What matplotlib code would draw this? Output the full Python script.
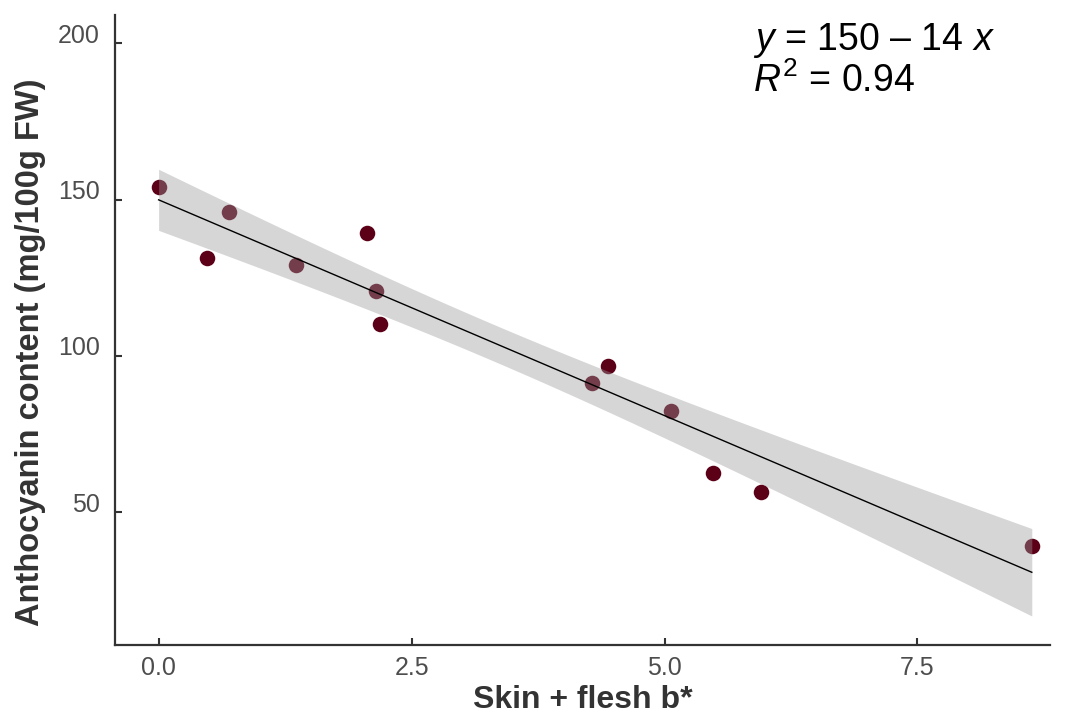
import numpy as np
import matplotlib
matplotlib.use("Agg")
import matplotlib.pyplot as plt
from matplotlib.transforms import ScaledTranslation

# colour b* values (skin + flesh) and anthocyanin content
b_star = [0.0, 0.48, 0.70, 1.36, 2.06, 2.15, 2.19, 4.28, 4.44, 5.06, 5.48, 5.95, 8.63]
anthocyanin = [154.0, 131.2, 146.0, 129.0, 139.2, 120.7, 110.1, 91.3, 96.7, 82.3, 62.5, 56.4, 39.1]

x_ticks = [0.0, 2.5, 5.0, 7.5]
y_ticks = [50, 100, 150, 200]

T_975 = 2.201  # t quantile, df = 11

plt.rcParams['font.family'] = ['Liberation Sans', 'DejaVu Sans']
plt.rcParams['mathtext.fontset'] = 'custom'
plt.rcParams['mathtext.rm'] = 'Liberation Sans'
plt.rcParams['mathtext.it'] = 'Liberation Sans:italic'

x = np.array(b_star)
y = np.array(anthocyanin)
n = len(x)
slope, intercept = np.polyfit(x, y, 1)
resid = y - (intercept + slope * x)
s = np.sqrt(np.sum(resid ** 2) / (n - 2))
sxx = np.sum((x - x.mean()) ** 2)
r2 = 1 - np.sum(resid ** 2) / np.sum((y - y.mean()) ** 2)

xs = np.linspace(x.min(), x.max(), 200)
fit = intercept + slope * xs
se = s * np.sqrt(1 / n + (xs - x.mean()) ** 2 / sxx)

fig = plt.figure(figsize=(10.66, 7.2), dpi=100)
ax = fig.add_axes([0.108, 0.104, 0.877, 0.875])

ax.scatter(x, y, s=125, color='#5c0018', zorder=2, linewidths=0)
ax.fill_between(xs, fit - T_975 * se, fit + T_975 * se, color='#999999', alpha=0.4,
                linewidth=0, zorder=3)
ax.plot(xs, fit, color='black', linewidth=1.0, zorder=4)

ax.set_xlim(-0.43, 8.81)
ax.set_ylim(7.5, 209)
ax.set_xticks(x_ticks)
ax.set_xticklabels([f"{t:.1f}" for t in x_ticks])
ax.set_yticks(y_ticks)

for side in ['top', 'right']:
    ax.spines[side].set_visible(False)
for side in ['left', 'bottom']:
    ax.spines[side].set_color('#333333')
    ax.spines[side].set_linewidth(1.6)
ax.tick_params(direction='in', length=5, width=1.5, color='#333333',
               labelcolor='#4d4d4d', labelsize=18)
ax.tick_params(axis='x', pad=8)
ax.tick_params(axis='y', pad=11)

# y tick labels sit a bit above their ticks in the original
shift = ScaledTranslation(0, 0.10, fig.dpi_scale_trans)
for lab in ax.get_yticklabels():
    lab.set_transform(lab.get_transform() + shift)

ax.set_xlabel("Skin + flesh b*", fontsize=23, fontweight='bold', color='#333333', va='center')
ax.xaxis.set_label_coords(0.5, -0.087)
ax.set_ylabel("Anthocyanin content (mg/100g FW)", fontsize=23.5, fontweight='bold',
              color='#333333', va='center')
ax.yaxis.set_label_coords(-0.09, 0.465)

eq = f"$y$ = {intercept:.0f} \u2013 {abs(slope):.0f} $x$\n$R^2$ = {r2:.2f}"
ax.text(0.682, 0.99, eq, transform=ax.transAxes, fontsize=27, va='top', ha='left',
        linespacing=1.05, color='black')

fig.savefig("out.png", dpi=100)
